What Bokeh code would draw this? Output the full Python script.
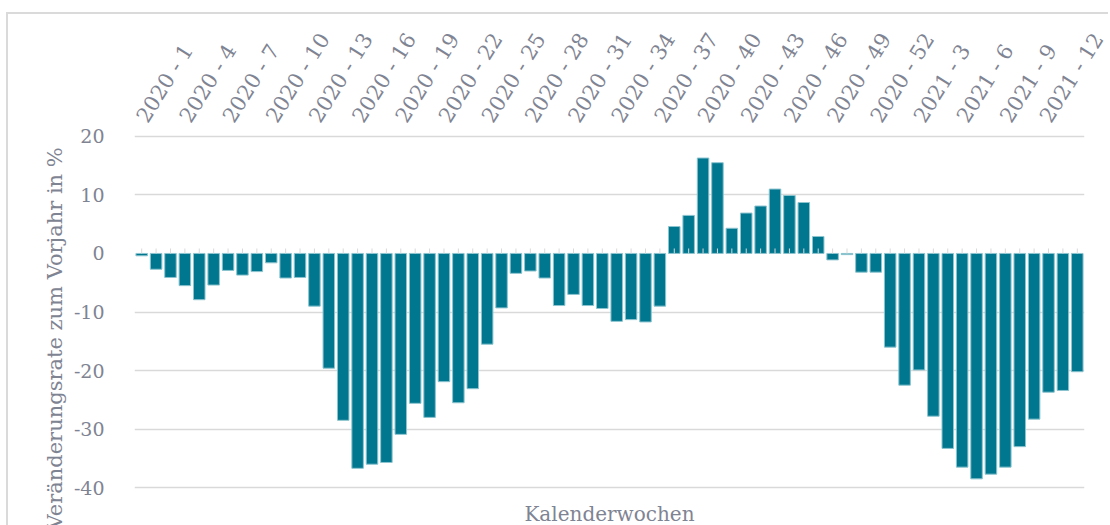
import math
from bokeh.plotting import figure
from bokeh.models import Range1d, FixedTicker, Title, LinearAxis
from bokeh.embed import file_html
from bokeh.resources import INLINE

# ---- data ----
weeks = [f"2020 - {w}" for w in range(1, 53)] + [f"2021 - {w}" for w in range(1, 15)]
change = [
    -0.4, -2.7, -4.1, -5.5, -7.9, -5.4, -2.9, -3.7, -3.1, -1.6,
    -4.2, -4.1, -9.0, -19.6, -28.5, -36.7, -36.0, -35.7, -30.9, -25.6,
    -28.0, -21.9, -25.5, -23.1, -15.5, -9.3, -3.4, -3.0, -4.2, -8.9,
    -7.0, -8.9, -9.4, -11.6, -11.3, -11.7, -9.0, 4.6, 6.5, 16.3,
    15.5, 4.3, 6.9, 8.1, 11.0, 9.9, 8.7, 2.9, -1.1, -0.2,
    -3.2, -3.2, -16.0, -22.5, -19.9, -27.8, -33.3, -36.5, -38.5, -37.7,
    -36.5, -33.0, -28.3, -23.7, -23.4, -20.2,
]
y_ticks = [-40, -30, -20, -10, 0, 10, 20]
label_step = 3
y_title = "Veränderungsrate zum Vorjahr in %"
x_title = "Kalenderwochen"

FONT = "DejaVu Serif"
TEXT = "#7f8493"
GRID = "#d9d9d9"

xs = list(range(1, len(weeks) + 1))

p = figure(
    frame_width=950, frame_height=363,
    min_border_left=126, min_border_right=24, min_border_top=116, min_border_bottom=34,
    x_range=Range1d(0.5, len(weeks) + 0.5), y_range=Range1d(-41, 21),
    x_axis_location="above",
    output_backend="svg", toolbar_location=None,
)
p.styles = {
    "border-left": "2px solid #dadada",
    "border-top": "2px solid #dadada",
    "margin-left": "6px",
    "margin-top": "12px",
    "margin-bottom": "-30px",
}
p.outline_line_color = None
p.background_fill_color = "white"
p.border_fill_color = "white"

p.xgrid.visible = False
p.ygrid.ticker = FixedTicker(ticks=[t for t in y_ticks if t != 0])
p.ygrid.grid_line_color = GRID
p.ygrid.grid_line_width = 1.5

# y axis
p.yaxis.ticker = FixedTicker(ticks=y_ticks)
p.yaxis.major_label_overrides = {t: str(t) for t in y_ticks}
p.yaxis.axis_line_color = None
p.yaxis.major_tick_line_color = None
p.yaxis.minor_tick_line_color = None
p.yaxis.major_label_standoff = 24
p.yaxis.major_label_text_font = FONT
p.yaxis.major_label_text_font_size = "19px"
p.yaxis.major_label_text_color = TEXT

# x axis (top)
tick_pos = xs[::label_step]
p.xaxis.ticker = FixedTicker(ticks=tick_pos)
p.xaxis.major_label_overrides = {x: weeks[x - 1] for x in tick_pos}
p.xaxis.major_label_orientation = math.radians(58)
p.xaxis.axis_line_color = None
p.xaxis.major_tick_line_color = None
p.xaxis.minor_tick_line_color = None
p.xaxis.major_label_standoff = 4
p.xaxis.major_label_text_font = FONT
p.xaxis.major_label_text_font_size = "21px"
p.xaxis.major_label_text_color = TEXT

# bottom axis carrying only the x title
bottom_axis = LinearAxis(
    ticker=FixedTicker(ticks=[]), axis_label=x_title,
    axis_line_color=None, major_tick_line_color=None, minor_tick_line_color=None,
    major_tick_out=0, minor_tick_out=0, major_label_standoff=0,
    axis_label_standoff=8,
    axis_label_text_font=FONT, axis_label_text_font_size="20px",
    axis_label_text_font_style="normal", axis_label_text_color=TEXT,
)
p.add_layout(bottom_axis, "below")

# bars
p.vbar(x=xs, top=change, bottom=0, width=0.8,
       fill_color="#00778f", line_color="#8cc4cf", line_width=1)

# small category ticks at zero line
p.segment(x0=xs, y0=[0] * len(xs), x1=xs, y1=[0.85] * len(xs),
          line_color=GRID, line_width=1)

# y title
p.add_layout(Title(text=y_title, align="left", offset=-36, standoff=8,
                   text_font=FONT, text_font_size="21px", text_font_style="normal",
                   text_color=TEXT), "left")

open("out.html", "w").write(file_html(p, INLINE))
